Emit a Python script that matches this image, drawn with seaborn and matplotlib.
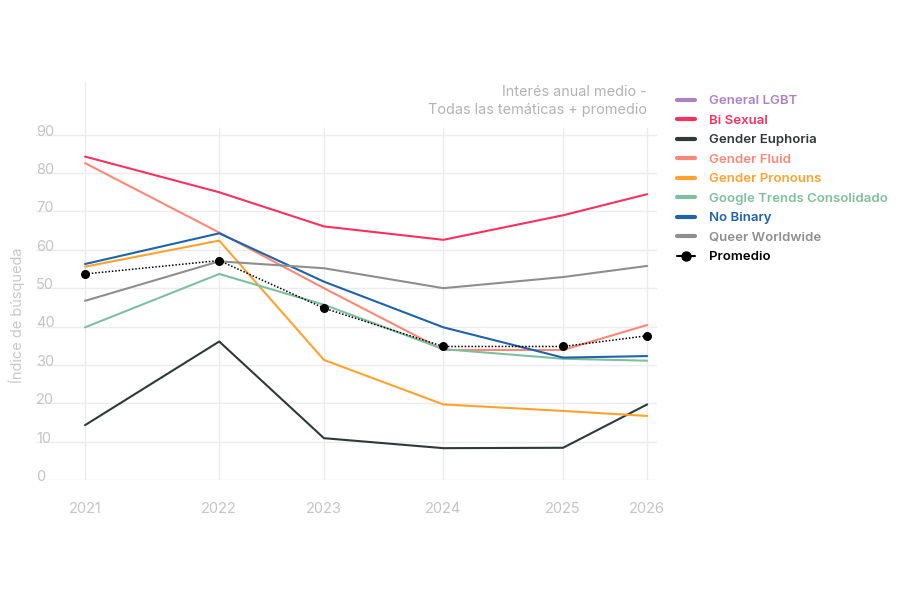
import matplotlib
matplotlib.use("Agg")
import matplotlib.pyplot as plt
from matplotlib.lines import Line2D
import seaborn as sns
import pandas as pd
import numpy as np

# ---- data ----
dates = ["2021-01-01", "2022-02-15", "2023-01-01", "2024-01-01", "2025-01-01", "2025-09-15"]
tick_labels = ["2021", "2022", "2023", "2024", "2025", "2026"]

bi_sexual = [84.3, 75.0, 66.1, 62.6, 69.0, 74.5]
gender_euphoria = [14.3, 36.1, 10.9, 8.3, 8.4, 19.7]
gender_fluid = [82.6, 64.5, 50.0, 33.9, 33.9, 40.4]
gender_pronouns = [55.6, 62.4, 31.3, 19.7, 18.0, 16.7]
google_trends = [39.8, 53.7, 45.7, 34.1, 31.6, 31.1]
no_binary = [56.3, 64.3, 51.7, 39.8, 31.9, 32.3]
queer_worldwide = [46.7, 57.0, 55.2, 50.0, 52.9, 55.8]
promedio = [53.7, 57.2, 44.8, 34.8, 34.8, 37.6]

series_names = ["General LGBT", "Bi Sexual", "Gender Euphoria", "Gender Fluid",
                "Gender Pronouns", "Google Trends Consolidado", "No Binary", "Queer Worldwide"]
series_values = {
    "Bi Sexual": bi_sexual,
    "Gender Euphoria": gender_euphoria,
    "Gender Fluid": gender_fluid,
    "Gender Pronouns": gender_pronouns,
    "Google Trends Consolidado": google_trends,
    "No Binary": no_binary,
    "Queer Worldwide": queer_worldwide,
}
colors = {
    "General LGBT": "#ad82c4",
    "Bi Sexual": "#f7325f",
    "Gender Euphoria": "#2e3a3a",
    "Gender Fluid": "#fa8878",
    "Gender Pronouns": "#ffa22e",
    "Google Trends Consolidado": "#7fbf9f",
    "No Binary": "#1f63a8",
    "Queer Worldwide": "#8e8e8e",
}

title_text = "Interés anual medio -\nTodas las temáticas + promedio"
ylabel_text = "Índice de búsqueda"
y_ticks = list(range(0, 100, 10))

# ---- style ----
sns.set_theme(style="white")
plt.rcParams["font.family"] = ["Inter", "DejaVu Sans"]

x = pd.to_datetime(dates)
rows = []
for name, vals in series_values.items():
    for d, v in zip(x, vals):
        rows.append({"fecha": d, "valor": v, "serie": name})
df = pd.DataFrame(rows)
df_prom = pd.DataFrame({"fecha": x, "valor": promedio})

fig = plt.figure(figsize=(9, 6), dpi=100)
ax = fig.add_axes([36 / 900, 120 / 600, (657 - 36) / 900, (480 - 81) / 600])

grid_c = "#ececec"
# horizontal grid
for yv in y_ticks:
    ax.axhline(yv, color=grid_c, lw=1.0, zorder=0)
# vertical grid
for i, d in enumerate(x):
    ax.vlines(d, 0, 104 if i == 0 else 92, color=grid_c, lw=1.0, zorder=0)

sns.lineplot(data=df, x="fecha", y="valor", hue="serie",
             palette={k: colors[k] for k in series_values}, linewidth=1.5,
             legend=False, ax=ax, zorder=3)
sns.lineplot(data=df_prom, x="fecha", y="valor", color="black", linestyle=(0, (1, 1.2)),
             linewidth=1.1, marker="o", markersize=6.5, markeredgewidth=0,
             legend=False, ax=ax, zorder=4)

ax.set_ylim(0, 104)
ax.set_xlim(pd.Timestamp("2020-08-04"), pd.Timestamp("2025-10-15"))
ax.set_xticks(x)
ax.set_xticklabels(tick_labels, color="#c4c4c4", fontsize=10.5)
ax.tick_params(axis="x", length=0, pad=16)
ax.set_yticks([])
ax.set_xlabel("")
ax.set_ylabel("")
for s in ax.spines.values():
    s.set_visible(False)

for yv in y_ticks:
    ax.text(0, yv + 0.8, str(yv), transform=ax.get_yaxis_transform(),
            ha="left", va="center", color="#c4c4c4", fontsize=10.5, zorder=1)

fig.text(17 / 900, 1 - 315 / 600, ylabel_text, rotation=90, ha="center", va="center",
         color="#c8c8c8", fontsize=10.5)
fig.text(647 / 900, 1 - 85 / 600, title_text, ha="right", va="top",
         color="#b3b3b3", fontsize=10.4, linespacing=1.35)

handles = [Line2D([], [], color=colors[n], lw=3) for n in series_names]
handles.append(Line2D([], [], color="black", lw=1.5, marker="o", markersize=6.5,
                      linestyle="-"))
labels = series_names + ["Promedio"]
leg = fig.legend(handles, labels, loc="upper left",
                 bbox_to_anchor=(677 / 900, 1 - 95 / 600), frameon=False,
                 fontsize=9.5, handlelength=1.35, handletextpad=1.1,
                 labelspacing=0.55, borderaxespad=0, borderpad=0)
text_colors = [colors[n] for n in series_names] + ["black"]
for t, c in zip(leg.get_texts(), text_colors):
    t.set_color(c)
    t.set_fontweight("semibold")

fig.savefig("out.png", dpi=100)
